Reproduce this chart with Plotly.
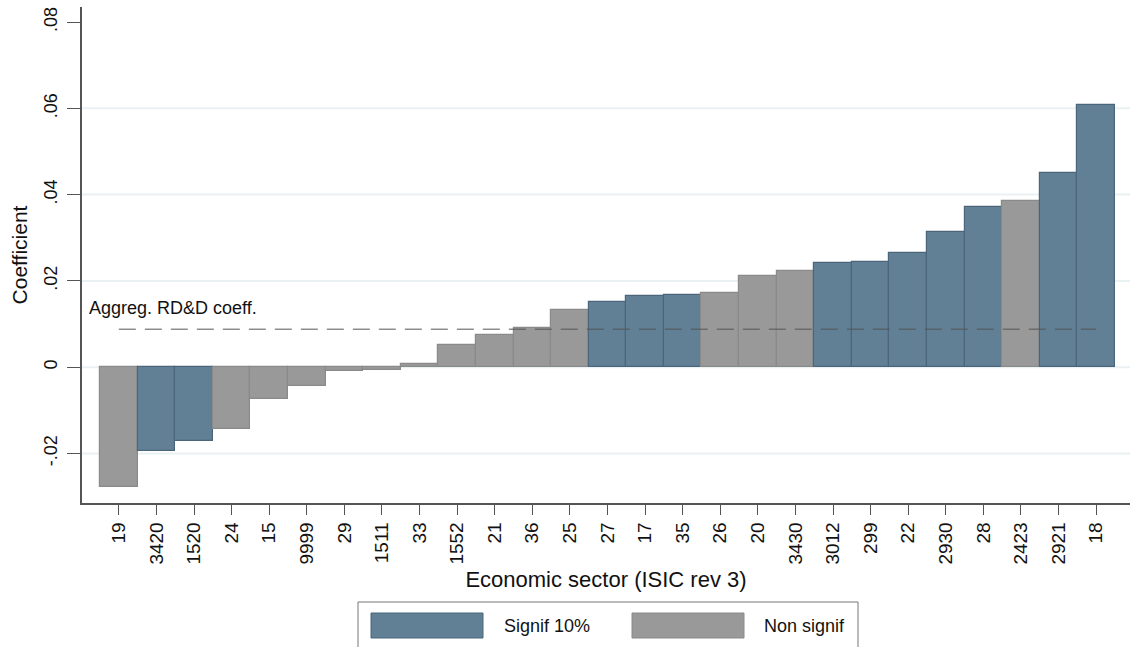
import plotly.graph_objects as go

# Sector codes (ISIC rev 3), sorted by coefficient
sectors = ["19", "3420", "1520", "24", "15", "9999", "29", "1511", "33", "1552",
           "21", "36", "25", "27", "17", "35", "26", "20", "3430", "3012",
           "299", "22", "2930", "28", "2423", "2921", "18"]
coefficients = [-0.0279, -0.0195, -0.0172, -0.0144, -0.0074, -0.0044, -0.0009, -0.0007,
                0.0007, 0.0051, 0.0074, 0.0091, 0.0133, 0.0151, 0.0165, 0.0167,
                0.0172, 0.0212, 0.0223, 0.0242, 0.0244, 0.0265, 0.0314, 0.0372,
                0.0386, 0.0451, 0.0607]
significant = [False, True, True, False, False, False, False, False, False, False,
               False, False, False, True, True, True, False, False, False, True,
               True, True, True, True, False, True, True]
aggregate_coeff = 0.0088

y_ticks = [-0.02, 0, 0.02, 0.04, 0.06, 0.08]
y_tick_text = ["-.02", "0", ".02", ".04", ".06", ".08"]

SIG_FILL, SIG_LINE = "#618095", "#4b667b"
NS_FILL, NS_LINE = "#999999", "#8a8a8a"
FONT = "Arial, Liberation Sans, sans-serif"
TEXT = "#111111"

# Plot-area geometry in pixels (used to place the legend in paper units)
L, R, T, B = 82, 1130, 7, 503
PW, PH = R - L, B - T


def px_x(px):
    return (px - L) / PW


def px_y(py):
    return (B - py) / PH


fig = go.Figure()

fig.add_trace(go.Bar(
    x=sectors, y=coefficients, width=1,
    marker=dict(color=[SIG_FILL if s else NS_FILL for s in significant],
                line=dict(color=[SIG_LINE if s else NS_LINE for s in significant], width=1.2)),
    showlegend=False,
))

# Aggregate coefficient reference line
fig.add_trace(go.Scatter(
    x=[sectors[0], sectors[-1]], y=[aggregate_coeff, aggregate_coeff],
    mode="lines", line=dict(color="#555555", width=1, dash="17px,9px"),
    showlegend=False, hoverinfo="skip",
))

# Horizontal gridlines
for v in y_ticks[:-1]:
    fig.add_shape(type="line", xref="paper", x0=0, x1=1, yref="y", y0=v, y1=v,
                  line=dict(color="#eaf1f3", width=2), layer="below")

fig.add_annotation(x=px_x(87), xref="paper", y=0.0137, yref="y", xanchor="left",
                   yanchor="middle", text="Aggreg. RD&D coeff.", showarrow=False,
                   font=dict(family=FONT, size=18, color=TEXT))

# Legend box drawn below the axis
fig.add_shape(type="rect", xref="paper", yref="paper",
              x0=px_x(358), x1=px_x(858), y0=px_y(662), y1=px_y(602),
              line=dict(color="#777777", width=1), fillcolor="rgba(0,0,0,0)")
legend_items = [("Signif 10%", SIG_FILL, SIG_LINE, 371, 483, 502),
                ("Non signif", NS_FILL, NS_LINE, 632, 744, 762)]
for label, fill, edge, sx0, sx1, tx in legend_items:
    fig.add_shape(type="rect", xref="paper", yref="paper",
                  x0=px_x(sx0), x1=px_x(sx1), y0=px_y(638), y1=px_y(613),
                  line=dict(color=edge, width=1), fillcolor=fill)
    fig.add_annotation(x=px_x(tx), xref="paper", y=px_y(625.5), yref="paper",
                       xanchor="left", yanchor="middle", text=label, showarrow=False,
                       font=dict(family=FONT, size=18, color=TEXT))

fig.update_layout(
    width=1130, height=647,
    margin=dict(l=L, r=1130 - R, t=T, b=647 - B),
    paper_bgcolor="white", plot_bgcolor="white",
    bargap=0,
    font=dict(family=FONT, size=18, color=TEXT),
    xaxis=dict(
        type="category", range=[-0.98, 26.9],
        showline=True, linecolor="#555555", linewidth=1.5,
        ticks="outside", ticklen=10, tickcolor="#555555", tickangle=-90,
        showgrid=False, zeroline=False,
        title=dict(text="Economic sector (ISIC rev 3)", font=dict(size=22), standoff=8),
        tickfont=dict(size=19),
    ),
    yaxis=dict(
        range=[-0.0315, 0.0835],
        tickvals=y_ticks, ticktext=y_tick_text, tickangle=-90,
        showline=True, linecolor="#555555", linewidth=1.5,
        ticks="outside", ticklen=13, tickcolor="#555555",
        showgrid=False, zeroline=False, ticklabelstandoff=3,
        title=dict(text="Coefficient", font=dict(size=21), standoff=8),
        tickfont=dict(size=18),
    ),
)

fig.write_html("out.html")
